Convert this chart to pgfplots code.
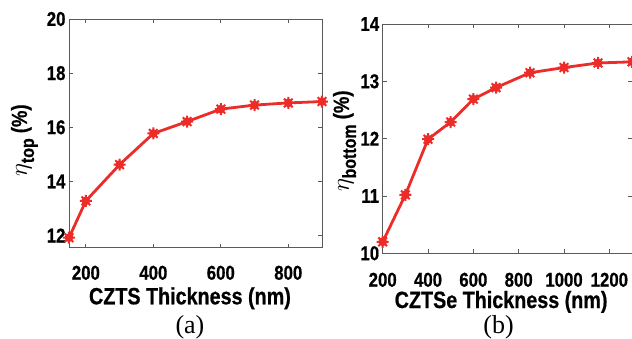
\documentclass[border=0pt]{standalone}
\usepackage{pgfplots}
\pgfplotsset{compat=1.18}
\usepackage{fontspec}
\setmainfont{Liberation Sans}[FakeStretch=0.84, BoldFeatures={FakeBold=0.7}]
\newfontfamily\serifab{Liberation Serif}
\definecolor{lred}{RGB}{236,44,40}
\definecolor{axgray}{RGB}{90,90,90}
\pgfdeclareplotmark{blob}{%
  \pgfpathcircle{\pgfpointorigin}{0.55\pgfplotmarksize}%
  \pgfusepathqfillstroke
  \pgfpathmoveto{\pgfqpoint{0pt}{\pgfplotmarksize}}%
  \pgfpathlineto{\pgfqpoint{0pt}{-\pgfplotmarksize}}%
  \pgfpathmoveto{\pgfqpoint{\pgfplotmarksize}{0pt}}%
  \pgfpathlineto{\pgfqpoint{-\pgfplotmarksize}{0pt}}%
  \pgfpathmoveto{\pgfqpoint{0.72\pgfplotmarksize}{0.72\pgfplotmarksize}}%
  \pgfpathlineto{\pgfqpoint{-0.72\pgfplotmarksize}{-0.72\pgfplotmarksize}}%
  \pgfpathmoveto{\pgfqpoint{-0.72\pgfplotmarksize}{0.72\pgfplotmarksize}}%
  \pgfpathlineto{\pgfqpoint{0.72\pgfplotmarksize}{-0.72\pgfplotmarksize}}%
  \pgfusepathqstroke
}
\pgfplotsset{
  myax/.style={
    scale only axis,
    axis line style={axgray, line width=0.9pt},
    tick style={axgray, line width=0.9pt},
    major tick length=4pt,
    tick align=inside,
    clip=false,
    /pgf/number format/assume math mode=true,
    /pgf/number format/1000 sep={},
    ticklabel style={font=\fontsize{20}{22}\selectfont\bfseries},
    xticklabel style={anchor=base},
    xlabel style={font=\fontsize{23.5}{26}\selectfont\bfseries, anchor=base},
    ylabel style={font=\fontsize{22}{26}\selectfont\bfseries, anchor=center, rotate=0},
  },
  myline/.style={lred, line width=2.8pt, mark=blob, mark size=6pt, mark options={solid, fill=lred, line width=2pt}},
}
\newcommand{\etasub}[1]{{\fontsize{30}{30}\selectfont$\eta$}\raisebox{-7pt}{\fontsize{19}{20}\selectfont\bfseries #1}}
\begin{document}
\begin{tikzpicture}
\path[use as bounding box] (0pt,0pt) rectangle (632pt,338pt);
% (a)
\begin{axis}[myax,
  at={(69pt,90.3pt)}, anchor=south west,
  width=253pt, height=228.7pt,
  xmin=150, xmax=900, ymin=11.55, ymax=20,
  xtick={200,400,600,800}, ytick={12,14,16,18,20},
  xticklabel style={yshift=-32pt},
  xlabel={CZTS Thickness (nm)},
  xlabel style={at={(axis description cs:0.478,0)}, yshift=-56.6pt},
  ylabel={\etasub{top} (\%)},
  ylabel style={at={(axis description cs:-0.176,0.47)}},
]
\addplot[myline] coordinates {
  (150,11.92) (200,13.28) (300,14.62) (400,15.77) (500,16.21)
  (600,16.67) (700,16.82) (800,16.90) (900,16.95)
};
\node[font=\serifab\fontsize{26}{28}\selectfont, anchor=base] at (axis description cs:0.478,0) [yshift=-85.5pt] {(a)};
\end{axis}
% (b)
\begin{axis}[myax,
  at={(382.7pt,84.7pt)}, anchor=south west,
  width=249.3pt, height=229.3pt,
  xmin=200, xmax=1300, ymin=10, ymax=14,
  xtick={200,400,600,800,1000,1200}, ytick={10,11,12,13,14},
  xticklabel style={yshift=-33.4pt},
  xlabel={CZTSe Thickness (nm)},
  xlabel style={at={(axis description cs:0.475,0)}, yshift=-54.7pt},
  ylabel={\etasub{bottom} (\%)},
  ylabel style={at={(axis description cs:-0.153,0.49)}},
]
\addplot[myline] coordinates {
  (200,10.20) (300,11.02) (400,11.99) (500,12.29) (600,12.69)
  (700,12.89) (850,13.15) (1000,13.24) (1150,13.32) (1300,13.34)
};
\node[font=\serifab\fontsize{26}{28}\selectfont, anchor=base] at (axis description cs:0.465,0) [yshift=-80pt] {(b)};
\end{axis}
\end{tikzpicture}
\end{document}
